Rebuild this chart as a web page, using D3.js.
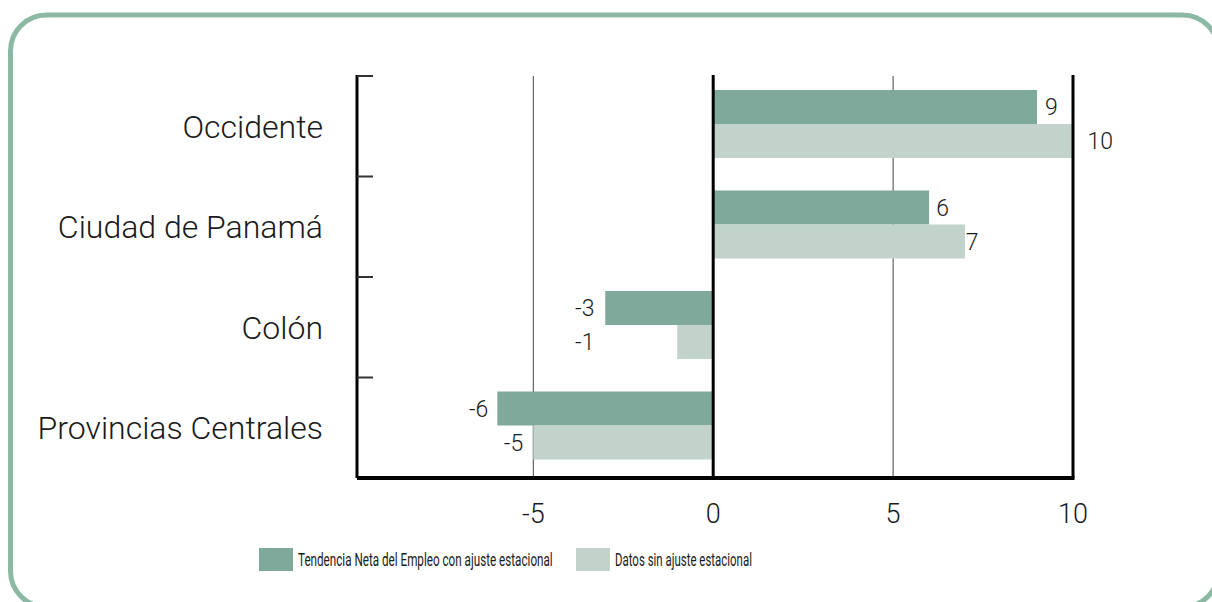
<!DOCTYPE html>
<html>
<head>
<meta charset="utf-8">
<script src="https://cdn.jsdelivr.net/npm/d3@7"></script>
<style>
  html, body { margin: 0; padding: 0; background: #fff; }
  svg { display: block; }
  text { font-family: "Roboto", "Liberation Sans", sans-serif; fill: #1a1a1a; }
</style>
</head>
<body>
<div id="chart"></div>
<script>
// chart data
const categories = ["Occidente", "Ciudad de Panamá", "Colón", "Provincias Centrales"];
const seriesNames = ["Tendencia Neta del Empleo con ajuste estacional", "Datos sin ajuste estacional"];
const adjusted = [9, 6, -3, -6];
const unadjusted = [10, 7, -1, -5];
// where each value label sits, in axis units
const adjustedLabelAt = [9.22, 6.2, -3.3, -6.25];
const unadjustedLabelAt = [10.4, 7.02, -3.3, -5.28];
const xTicks = [-5, 0, 5, 10];

const W = 1212, H = 602;
const colors = ["#7ea99b", "#c1d3ca"];

const svg = d3.select('#chart')
    .append('svg')
    .attr('width', W)
    .attr('height', H);

// rounded frame
svg.append('rect')
    .attr('x', 10.5).attr('y', 15)
    .attr('width', 1208).attr('height', 592)
    .attr('rx', 36).attr('ry', 36)
    .attr('fill', 'none')
    .attr('stroke', '#8bb9a3')
    .attr('stroke-width', 5);

const x = d3.scaleLinear()
    .domain([-9.9, 10])
    .range([357, 1073]);

const y = d3.scaleBand()
    .domain(categories)
    .range([76, 478]);

const sub = d3.scaleBand()
    .domain([0, 1])
    .range([14, 82]);

const plotTop = y.range()[0], plotBottom = y.range()[1];

// thin grid lines
svg.append('g')
    .selectAll('line')
    .data(xTicks.filter(d => d !== 0 && d !== 10))
    .join('line')
    .attr('x1', d => x(d)).attr('x2', d => x(d))
    .attr('y1', plotTop).attr('y2', plotBottom)
    .attr('stroke', '#444')
    .attr('stroke-width', 1);

// bars
const rows = categories.map((c, i) => ({
    cat: c,
    vals: [adjusted[i], unadjusted[i]],
    labelAt: [adjustedLabelAt[i], unadjustedLabelAt[i]]
}));

const barData = rows.flatMap(r => r.vals.map((v, s) => ({ cat: r.cat, s, v, at: r.labelAt[s] })));

svg.append('g')
    .selectAll('rect')
    .data(barData)
    .join('rect')
    .attr('x', d => x(Math.min(0, d.v)))
    .attr('y', d => y(d.cat) + sub(d.s))
    .attr('width', d => Math.abs(x(d.v) - x(0)))
    .attr('height', sub.bandwidth())
    .attr('fill', d => colors[d.s]);

// value labels
svg.append('g')
    .selectAll('text')
    .data(barData)
    .join('text')
    .attr('x', d => x(d.at))
    .attr('y', d => y(d.cat) + sub(d.s) + sub.bandwidth() / 2)
    .attr('dy', '0.36em')
    .attr('text-anchor', d => d.v < 0 ? 'end' : 'start')
    .style('font-size', '23px')
    .style('font-weight', 300)
    .text(d => d.v);

// heavy axis lines: zero, right edge at 10, bottom, left
svg.append('g')
    .selectAll('line')
    .data([0, 10])
    .join('line')
    .attr('x1', d => x(d)).attr('x2', d => x(d))
    .attr('y1', plotTop - 1).attr('y2', plotBottom)
    .attr('stroke', '#000')
    .attr('stroke-width', 3);

svg.append('line')
    .attr('x1', x.range()[0]).attr('x2', x(10) + 1.5)
    .attr('y1', plotBottom).attr('y2', plotBottom)
    .attr('stroke', '#000')
    .attr('stroke-width', 4);

svg.append('line')
    .attr('x1', x.range()[0]).attr('x2', x.range()[0])
    .attr('y1', plotTop - 1).attr('y2', plotBottom)
    .attr('stroke', '#000')
    .attr('stroke-width', 3);

// category ticks pointing right
svg.append('g')
    .selectAll('line')
    .data(categories)
    .join('line')
    .attr('x1', x.range()[0]).attr('x2', x.range()[0] + 16)
    .attr('y1', d => y(d)).attr('y2', d => y(d))
    .attr('stroke', '#333')
    .attr('stroke-width', 2);

// category labels
svg.append('g')
    .selectAll('text')
    .data(categories)
    .join('text')
    .attr('x', 323)
    .attr('y', d => y(d) + y.bandwidth() / 2)
    .attr('dy', '0.36em')
    .attr('text-anchor', 'end')
    .style('font-size', '32px')
    .style('font-weight', 300)
    .text(d => d);

// x tick labels
svg.append('g')
    .selectAll('text')
    .data(xTicks)
    .join('text')
    .attr('x', d => x(d))
    .attr('y', 513)
    .attr('dy', '0.36em')
    .attr('text-anchor', 'middle')
    .style('font-size', '27px')
    .style('font-weight', 300)
    .text(d => d);

// legend (text squeezed horizontally like the condensed original)
const legendX = [259, 576];
const legendW = [255, 137];
const legend = svg.append('g')
    .selectAll('g')
    .data(seriesNames)
    .join('g')
    .attr('transform', (d, i) => `translate(${legendX[i]}, 548)`);

legend.append('rect')
    .attr('width', 34).attr('height', 23)
    .attr('fill', (d, i) => colors[i]);

legend.append('text')
    .attr('y', 11.5)
    .attr('dy', '0.36em')
    .style('font-size', '18px')
    .text(d => d)
    .each(function (d, i) {
        const k = legendW[i] / this.getComputedTextLength();
        d3.select(this).attr('transform', `translate(39,0) scale(${k},1)`);
    });
</script>
</body>
</html>
